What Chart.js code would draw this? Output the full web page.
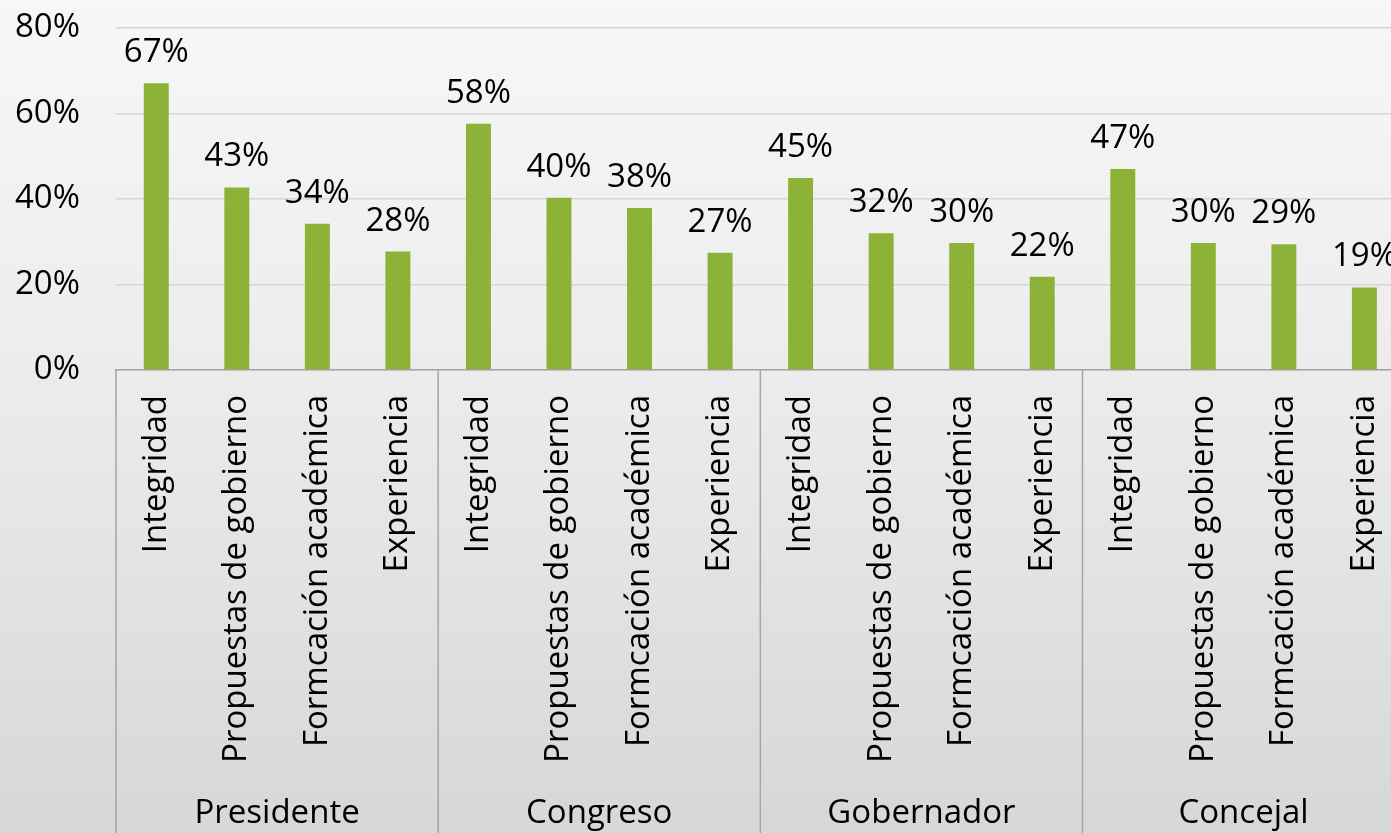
<!DOCTYPE html>
<html><head><meta charset="utf-8">
<script src="https://cdn.jsdelivr.net/npm/chart.js@4.4.1/dist/chart.umd.min.js"></script>
<style>
html,body{margin:0;padding:0;overflow:hidden;width:1391px;height:833px;}
body{background:linear-gradient(to bottom,#f7f7f7 0%,#ececec 45%,#d5d7d8 100%);}
#wrap{position:absolute;left:0;top:0;width:1421px;height:833px;}
</style></head><body>
<div id="wrap"><canvas id="c" width="1421" height="833"></canvas></div>
<script>
const groups = ['Presidente', 'Congreso', 'Gobernador', 'Concejal'];
const criteria = ['Integridad', 'Propuestas de gobierno', 'Formcación académica', 'Experiencia'];
const presidente = [67.1, 42.7, 34.2, 27.7];
const congreso   = [57.6, 40.3, 37.9, 27.4];
const gobernador = [44.9, 32.0, 29.7, 21.8];
const concejal   = [47.0, 29.7, 29.4, 19.3];
const yTickValues = [0, 20, 40, 60, 80];

const categories = [].concat(criteria, criteria, criteria, criteria);
const values = [].concat(presidente, congreso, gobernador, concejal);

const FONT = '"Open Sans", sans-serif';
const FS = 33;
Chart.defaults.color = '#000';
Chart.defaults.font.family = FONT;

const valueLabels = {
  id: 'valueLabels',
  afterDatasetsDraw(chart) {
    const ctx = chart.ctx;
    const meta = chart.getDatasetMeta(0);
    ctx.save();
    ctx.font = FS + 'px ' + FONT;
    ctx.fillStyle = '#000';
    ctx.textAlign = 'center';
    ctx.textBaseline = 'alphabetic';
    meta.data.forEach((el, i) => {
      ctx.fillText(Math.round(values[i]) + '%', el.x, el.y - 21);
    });
    ctx.restore();
  }
};

const separators = {
  id: 'separators',
  afterDraw(chart) {
    const xs = chart.scales.x;
    const ctx = chart.ctx;
    const step = xs.getPixelForValue(1) - xs.getPixelForValue(0);
    ctx.save();
    ctx.strokeStyle = '#a3a5a6';
    ctx.lineWidth = 1.5;
    for (let g = 0; g <= groups.length; g++) {
      const x = xs.getPixelForValue(g * criteria.length) - step / 2;
      ctx.beginPath();
      ctx.moveTo(x, xs.top);
      ctx.lineTo(x, chart.height);
      ctx.stroke();
    }
    ctx.restore();
  }
};

new Chart(document.getElementById('c'), {
  type: 'bar',
  data: {
    labels: categories,
    datasets: [{
      data: values,
      backgroundColor: '#8cb338',
      borderWidth: 0,
      barPercentage: 0.31,
      categoryPercentage: 1
    }]
  },
  options: {
    responsive: false,
    animation: false,
    layout: { padding: { top: 28, left: 0, right: 0, bottom: 0 } },
    plugins: { legend: { display: false }, tooltip: { enabled: false } },
    scales: {
      x: {
        weight: 0,
        grid: { display: false },
        border: { display: true, color: '#a3a5a6', width: 1.5 },
        ticks: { autoSkip: false, minRotation: 90, maxRotation: 90, padding: 17, font: { size: FS, family: FONT }, color: '#000' },
        afterFit(s) { s.height = 412; }
      },
      x2: {
        type: 'category',
        position: 'bottom',
        weight: 1,
        labels: groups,
        offset: true,
        grid: { display: false, drawTicks: false },
        border: { display: false },
        ticks: { padding: 12, font: { size: FS, family: FONT }, color: '#000' },
        afterFit(s) { s.height = 51; }
      },
      y: {
        min: 0, max: 80,
        afterBuildTicks(s) { s.ticks = yTickValues.map(v => ({ value: v })); },
        grid: { color: '#d6d6d6', lineWidth: 1.5, drawTicks: false },
        border: { display: false },
        ticks: { padding: 36, font: { size: FS, family: FONT }, color: '#000', callback: v => v + '%' },
        afterFit(s) { s.width = 116; s.paddingTop = 0; s.paddingBottom = 0; }
      }
    }
  },
  plugins: [valueLabels, separators]
});
</script>
</body></html>
